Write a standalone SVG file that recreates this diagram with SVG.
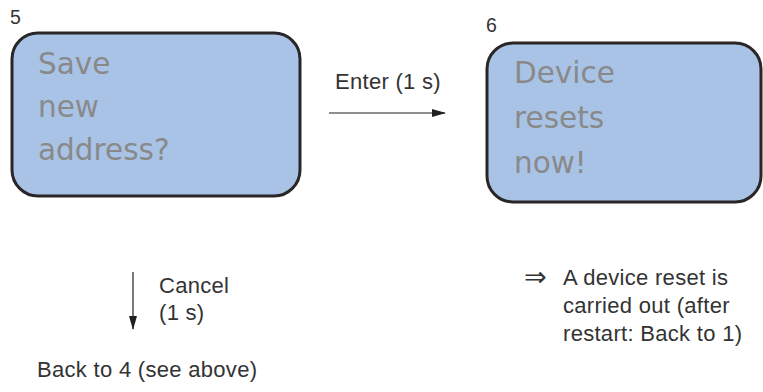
<svg xmlns="http://www.w3.org/2000/svg" width="763" height="392" viewBox="0 0 763 392">
<style>
.box{fill:#a8c3e6;stroke:#2a2526;stroke-width:3}
.in{fill:#8a898a;font-family:"DejaVu Sans",sans-serif;font-size:29.5px}
.lbl{fill:#333;font-family:"Liberation Sans",Arial,sans-serif;font-size:22px;letter-spacing:0.3px}
.num{fill:#333;font-family:"Liberation Sans",Arial,sans-serif;font-size:19.5px}
.con{stroke:#231f20;stroke-width:1.2;fill:none}
</style>
<defs>
<marker id="ah" markerWidth="14" markerHeight="8" refX="13" refY="4" orient="auto" markerUnits="userSpaceOnUse">
<path d="M0,0 L14,4 L0,8 Z" fill="#231f20"/>
</marker>
</defs>
<g id="node5">
<text class="num" x="10" y="24">5</text>
<rect class="box" x="12" y="33" width="288" height="163" rx="26" ry="26"/>
<text class="in" x="38" y="74">Save</text>
<text class="in" x="38" y="117">new</text>
<text class="in" x="38" y="160">address?</text>
</g>
<g id="node6">
<text class="num" x="486" y="32">6</text>
<rect class="box" x="487" y="43" width="274" height="159" rx="26" ry="26"/>
<text class="in" x="514" y="83">Device</text>
<text class="in" x="514" y="128">resets</text>
<text class="in" x="514" y="173">now!</text>
</g>
<g id="connectors">
<line class="con" x1="329" y1="113" x2="445" y2="113" marker-end="url(#ah)"/>
<text class="lbl" x="335" y="89">Enter (1 s)</text>
<line class="con" x1="133" y1="272" x2="133" y2="329" marker-end="url(#ah)"/>
<text class="lbl" x="159" y="293">Cancel</text>
<text class="lbl" x="159" y="320">(1 s)</text>
</g>
<g id="back4">
<text class="lbl" x="37" y="377">Back to 4 (see above)</text>
</g>
<g id="note">
<text x="524" y="286" style="fill:#333;font-family:'DejaVu Sans',sans-serif;font-size:27px">⇒</text>
<text class="lbl" x="563" y="285">A device reset is</text>
<text class="lbl" x="563" y="313">carried out (after</text>
<text class="lbl" x="563" y="341">restart: Back to 1)</text>
</g>
</svg>
